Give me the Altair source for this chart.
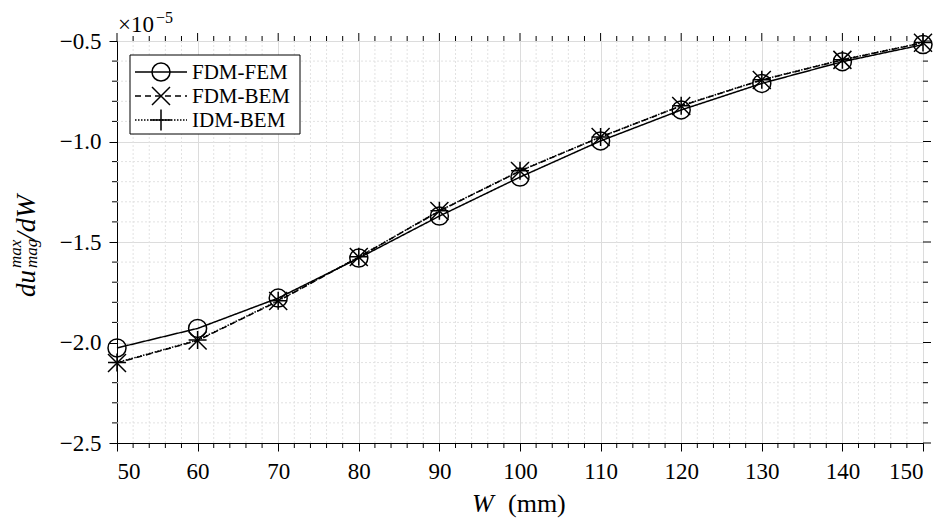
import altair as alt
import pandas as pd

# ---- data (values in units of 1e-5) ----
W = [50, 60, 70, 80, 90, 100, 110, 120, 130, 140, 150]
fdm_fem = [-2.027, -1.930, -1.779, -1.580, -1.371, -1.177, -0.997, -0.843, -0.711, -0.603, -0.518]
fdm_bem = [-2.102, -1.990, -1.794, -1.575, -1.346, -1.147, -0.978, -0.823, -0.694, -0.594, -0.509]
idm_bem = [-2.100, -1.988, -1.792, -1.574, -1.345, -1.146, -0.977, -0.822, -0.693, -0.593, -0.508]
series = ["FDM-FEM", "FDM-BEM", "IDM-BEM"]

x_major = [50, 60, 70, 80, 90, 100, 110, 120, 130, 140, 150]
x_minor = [52, 54, 56, 58, 62, 64, 66, 68, 72, 74, 76, 78, 82, 84, 86, 88, 92, 94, 96, 98,
           102, 104, 106, 108, 112, 114, 116, 118, 122, 124, 126, 128, 132, 134, 136, 138,
           142, 144, 146, 148]
y_major = [-2.5, -2.0, -1.5, -1.0, -0.5]
y_minor = [-2.4, -2.3, -2.2, -2.1, -1.9, -1.8, -1.7, -1.6, -1.4, -1.3, -1.2, -1.1,
           -0.9, -0.8, -0.7, -0.6]

dashes = [[1, 0], [6, 4], [1.5, 1.5]]
shapes = ["circle", "M-1,-1L1,1M-1,1L1,-1", "M-1,0L1,0M0,-1L0,1"]
sizes = [324, 324, 441]

PW, PH = 806, 402
FONT = "Liberation Serif"

df = pd.DataFrame({
    "W": W * 3,
    "val": fdm_fem + fdm_bem + idm_bem,
    "series": [s for s in series for _ in W],
})
dxmin = pd.DataFrame({"W": x_minor})
dxmaj = pd.DataFrame({"W": x_major})
dymin = pd.DataFrame({"val": y_minor})
dymaj = pd.DataFrame({"val": y_major})

xs = alt.Scale(domain=[50, 150], nice=False, zero=False)
ys = alt.Scale(domain=[-2.5, -0.5], nice=False, zero=False)

AX = alt.Axis(values=x_major, format="d", grid=True, gridColor="#dcdcdc",
              tickSize=8, labelPadding=9, labelFontSize=23, labelFont=FONT,
              labelColor="black", tickColor="black", domainColor="black")
AY = alt.Axis(values=y_major, format=".1f", grid=True, gridColor="#dcdcdc",
              tickSize=8, labelPadding=8, labelFontSize=23, labelFont=FONT,
              labelColor="black", tickColor="black", domainColor="black")
XE = alt.X("W:Q", scale=xs, axis=AX, title=None)
YE = alt.Y("val:Q", scale=ys, axis=AY, title=None)

grid_col = "#e2e2e2"

gx_minor = alt.Chart(dxmin).mark_rule(color=grid_col, strokeWidth=1, strokeDash=[2, 2]).encode(x=XE)
gy_minor = alt.Chart(dymin).mark_rule(color=grid_col, strokeWidth=1, strokeDash=[2, 2]).encode(y=YE)

lines = alt.Chart(df).mark_line(color="black", strokeWidth=1.5).encode(
    x=XE, y=YE,
    detail="series:N",
    strokeDash=alt.StrokeDash("series:N", scale=alt.Scale(domain=series, range=dashes), legend=None),
)

points = alt.Chart(df).mark_point(filled=False, color="black", strokeWidth=1.5, opacity=1).encode(
    x=XE, y=YE,
    shape=alt.Shape("series:N", scale=alt.Scale(domain=series, range=shapes), legend=None),
    size=alt.Size("series:N", scale=alt.Scale(domain=series, range=sizes), legend=None),
)

# ---- minor / mirrored ticks ----
tk = dict(color="black", strokeWidth=1)
t_bot_min = alt.Chart(dxmin).mark_rule(**tk).encode(x=XE, y=alt.value(PH), y2=alt.value(PH + 5))
t_top_min = alt.Chart(dxmin).mark_rule(**tk).encode(x=XE, y=alt.value(-5), y2=alt.value(0))
t_top_maj = alt.Chart(dxmaj).mark_rule(**tk).encode(x=XE, y=alt.value(-8), y2=alt.value(0))
t_left_min = alt.Chart(dymin).mark_rule(**tk).encode(y=YE, x=alt.value(-5), x2=alt.value(0))
t_right_min = alt.Chart(dymin).mark_rule(**tk).encode(y=YE, x=alt.value(PW), x2=alt.value(PW + 5))
t_right_maj = alt.Chart(dymaj).mark_rule(**tk).encode(y=YE, x=alt.value(PW), x2=alt.value(PW + 8))

one = alt.Data(values=[{"a": 1}])

def txt(s, x, y, size, style="normal", angle=0, align="left"):
    kw = dict(text=s, font=FONT, fontSize=size, fontStyle=style, align=align,
              baseline="alphabetic", color="black")
    if angle:
        kw["angle"] = angle
    return alt.Chart(one).mark_text(**kw).encode(x=alt.value(x), y=alt.value(y))

# ---- legend ----
leg_box = alt.Chart(one).mark_rect(fill="white", stroke="black", strokeWidth=1).encode(
    x=alt.value(13), x2=alt.value(183), y=alt.value(14), y2=alt.value(93))
leg_layers = [leg_box]
for i, s in enumerate(series):
    yy = 31 + 24 * i
    leg_layers.append(alt.Chart(one).mark_rule(color="black", strokeWidth=1.5, strokeDash=dashes[i]).encode(
        x=alt.value(18), x2=alt.value(70), y=alt.value(yy)))
    leg_layers.append(alt.Chart(one).mark_point(shape=shapes[i], size=sizes[i], filled=False,
                                                 color="black", strokeWidth=1.5, opacity=1).encode(
        x=alt.value(44), y=alt.value(yy)))
    leg_layers.append(txt(s, 75, yy + 7, 21))

# ---- titles / annotations ----
texts = [
    txt("×10", 1, -9, 23),
    txt("−5", 39, -18, 16),
    txt("W", 355, 471, 26, "italic"),
    txt("(mm)", 391, 471, 26),
    txt("du", -82, 256, 27, "italic", 270),
    txt("max", -96, 227, 17, "italic", 270),
    txt("mag", -80, 227, 17, "italic", 270),
    txt("/dW", -82, 199, 28, "italic", 270),
]

chart = alt.layer(
    gx_minor, gy_minor, lines, points,
    t_bot_min, t_top_min, t_top_maj, t_left_min, t_right_min, t_right_maj,
    *leg_layers, *texts,
).properties(
    width=PW, height=PH,
    autosize=alt.AutoSizeParams(type="none"),
    padding={"left": 117, "top": 41, "right": 28, "bottom": 82},
    background="white",
).configure_view(
    stroke="black", strokeWidth=1,
).configure_axis(
    labelFont=FONT, labelColor="black", domainColor="black", domainWidth=1,
    tickColor="black", tickWidth=1, titleFont=FONT,
)

chart.save("out.html", embed_options={"renderer": "svg", "actions": False})
